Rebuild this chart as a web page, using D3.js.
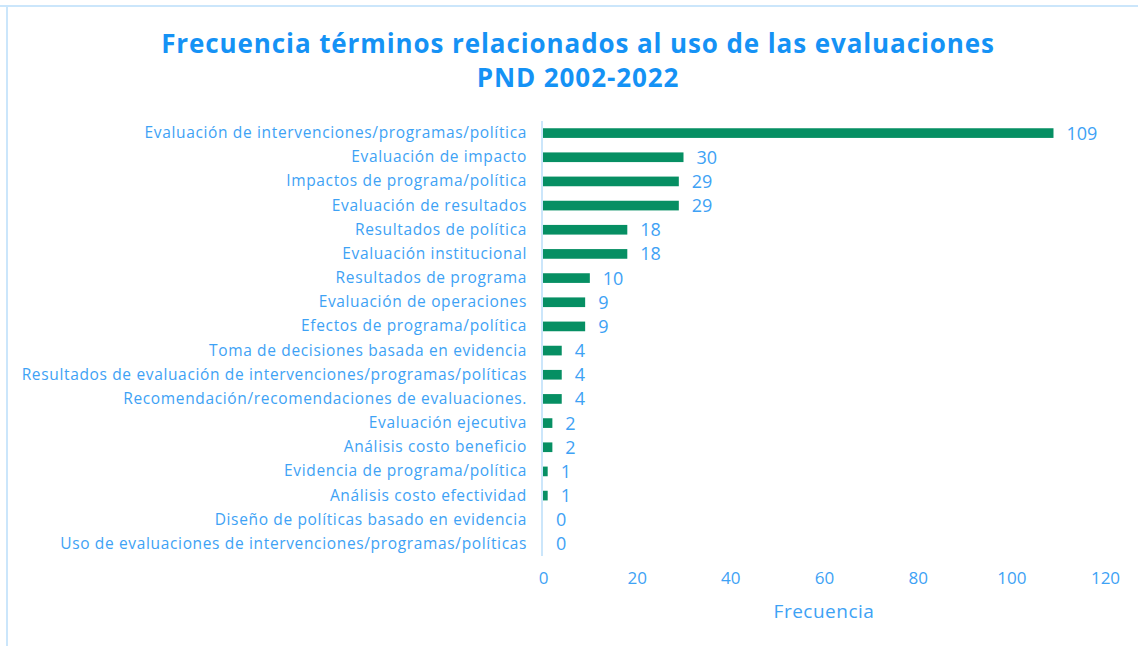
<!DOCTYPE html>
<html>
<head>
<meta charset="utf-8">
<script src="https://cdn.jsdelivr.net/npm/d3@7"></script>
<style>
  body { margin: 0; background: #fff; }
  svg { display: block; font-family: "Open Sans", sans-serif; }
</style>
</head>
<body>
<div id="chart"></div>
<script>
// data
const categories = [
    "Evaluación de intervenciones/programas/política",
    "Evaluación de impacto",
    "Impactos de programa/política",
    "Evaluación de resultados",
    "Resultados de política",
    "Evaluación institucional",
    "Resultados de programa",
    "Evaluación de operaciones",
    "Efectos de programa/política",
    "Toma de decisiones basada en evidencia",
    "Resultados de evaluación de intervenciones/programas/políticas",
    "Recomendación/recomendaciones de evaluaciones.",
    "Evaluación ejecutiva",
    "Análisis costo beneficio",
    "Evidencia de programa/política",
    "Análisis costo efectividad",
    "Diseño de políticas basado en evidencia",
    "Uso de evaluaciones de intervenciones/programas/políticas"
];
const frecuencias = [109, 30, 29, 29, 18, 18, 10, 9, 9, 4, 4, 4, 2, 2, 1, 1, 0, 0];
const xTicks = [0, 20, 40, 60, 80, 100, 120];

const W = 1138, H = 646;
const margin = { top: 121, right: 33, bottom: 90, left: 543 };

const labelBlue = "#3ea2f5";
const titleBlue = "#1592f5";

const svg = d3.select("#chart").append("svg")
    .attr("width", W)
    .attr("height", H);

// frame of the chart area
svg.append("line")
    .attr("x1", 0).attr("x2", W).attr("y1", 6).attr("y2", 6)
    .attr("stroke", "#cbe6fb").attr("stroke-width", 2);
svg.append("line")
    .attr("x1", 7).attr("x2", 7).attr("y1", 5).attr("y2", H)
    .attr("stroke", "#cbe6fb").attr("stroke-width", 2);

// title
svg.append("text")
    .attr("x", 578).attr("y", 53)
    .attr("text-anchor", "middle")
    .attr("fill", titleBlue)
    .attr("font-size", 26)
    .attr("font-weight", "bold")
    .attr("letter-spacing", 0.9)
    .text("Frecuencia términos relacionados al uso de las evaluaciones");
svg.append("text")
    .attr("x", 578).attr("y", 87)
    .attr("text-anchor", "middle")
    .attr("fill", titleBlue)
    .attr("font-size", 26)
    .attr("font-weight", "bold")
    .attr("letter-spacing", 0.9)
    .text("PND 2002-2022");

const g = svg.append("g")
    .attr("transform", "translate(" + margin.left + "," + margin.top + ")");

const x = d3.scaleLinear()
    .domain([0, 120])
    .range([0, 562]);

const y = d3.scaleBand()
    .domain(categories)
    .range([0, 435])
    .paddingInner(0.6)
    .paddingOuter(0.3);

// x axis (labels only)
const xAxis = d3.axisBottom(x)
    .tickValues(xTicks)
    .tickSize(0)
    .tickPadding(0);

g.append("g")
    .attr("class", "x-axis")
    .attr("transform", "translate(0," + 451 + ")")
    .call(xAxis)
    .call(a => a.select(".domain").remove())
    .selectAll("text")
    .attr("fill", labelBlue)
    .attr("font-size", 17)
    .attr("font-family", "'Open Sans', sans-serif");

// y axis
const yAxis = d3.axisLeft(y)
    .tickSize(0)
    .tickPadding(16);

g.append("g")
    .attr("class", "y-axis")
    .call(yAxis)
    .call(a => a.select(".domain")
        .attr("stroke", "#cbe6fb")
        .attr("stroke-width", 2)
        .attr("d", "M-1,0V435"))
    .selectAll("text")
    .attr("fill", labelBlue)
    .attr("font-size", 15.5)
    .attr("letter-spacing", 0.65)
    .attr("font-family", "'Open Sans', sans-serif");

// bars
g.selectAll(".bar")
    .data(frecuencias)
    .enter().append("rect")
    .attr("class", "bar")
    .attr("x", x(0))
    .attr("y", (d, i) => y(categories[i]))
    .attr("width", d => x(d) - x(0))
    .attr("height", y.bandwidth())
    .attr("fill", "#068f63");

// value labels
g.selectAll(".value")
    .data(frecuencias)
    .enter().append("text")
    .attr("class", "value")
    .attr("x", d => x(d) + 13)
    .attr("y", (d, i) => y(categories[i]) + y.bandwidth() / 2)
    .attr("dy", "0.36em")
    .attr("fill", labelBlue)
    .attr("font-size", 18)
    .text(d => d);

// axis title
g.append("text")
    .attr("x", (x(0) + x(120)) / 2)
    .attr("y", 497)
    .attr("text-anchor", "middle")
    .attr("fill", labelBlue)
    .attr("font-size", 19)
    .attr("letter-spacing", 0.5)
    .text("Frecuencia");
</script>
</body>
</html>
